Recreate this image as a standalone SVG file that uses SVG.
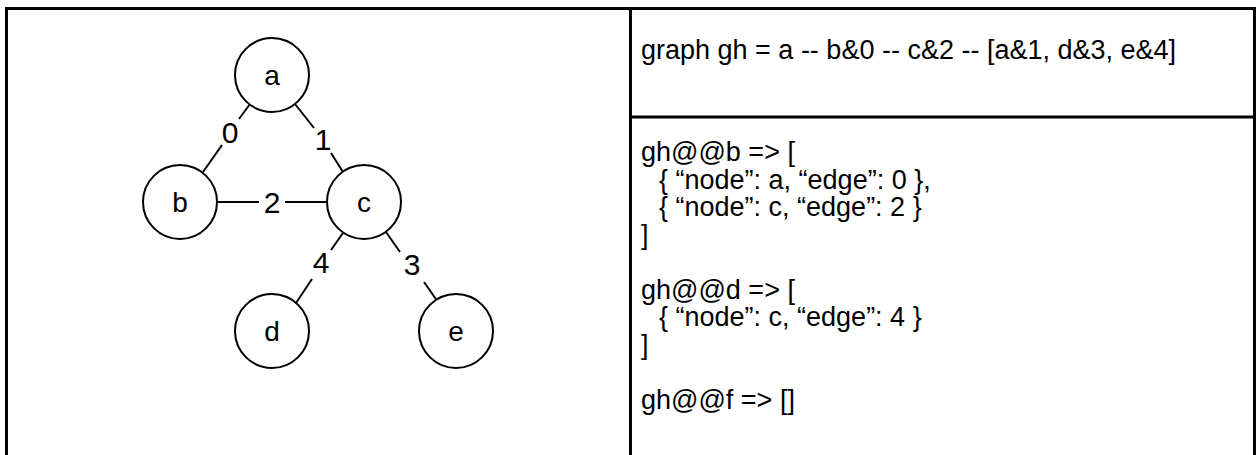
<svg xmlns="http://www.w3.org/2000/svg" width="1257" height="455" viewBox="0 0 1257 455">
  <style>
    .frame { fill: none; stroke: #000; stroke-width: 3; }
    .node circle { fill: #fff; stroke: #000; stroke-width: 2; }
    .node text { font-family: "Liberation Sans", Arial, sans-serif; font-size: 28px; text-anchor: middle; dominant-baseline: central; fill: #000; }
    .edge line { stroke: #000; stroke-width: 2; }
    .edge text { font-family: "Liberation Sans", Arial, sans-serif; font-size: 30px; text-anchor: middle; dominant-baseline: central; fill: #000; }
    .code { font-family: "Liberation Sans", Arial, sans-serif; font-size: 27px; fill: #000; }
  </style>
  <rect width="1257" height="455" fill="#fff"/>

  <!-- table frame -->
  <g id="frame">
    <path class="frame" d="M6.5 460 V8.5 H1254.5 V460"/>
    <line class="frame" x1="630.5" y1="8.5" x2="630.5" y2="460"/>
    <line class="frame" x1="630.5" y1="117" x2="1254.5" y2="117"/>
  </g>

  <!-- connectors with their weight labels -->
  <g id="edges">
    <g class="edge" id="edge-a-b">
      <line x1="250" y1="104" x2="239" y2="119"/>
      <line x1="222" y1="145" x2="203" y2="172"/>
      <text x="230" y="132">0</text>
    </g>
    <g class="edge" id="edge-a-c">
      <line x1="295" y1="104" x2="314" y2="128"/>
      <line x1="331" y1="153" x2="343" y2="172"/>
      <text x="323" y="139">1</text>
    </g>
    <g class="edge" id="edge-b-c">
      <line x1="217" y1="202" x2="259" y2="202"/>
      <line x1="285" y1="202" x2="327" y2="202"/>
      <text x="272" y="202">2</text>
    </g>
    <g class="edge" id="edge-c-d">
      <line x1="343" y1="233" x2="331" y2="250"/>
      <line x1="312" y1="279" x2="296" y2="303"/>
      <text x="321" y="262">4</text>
    </g>
    <g class="edge" id="edge-c-e">
      <line x1="386" y1="232" x2="400" y2="252"/>
      <line x1="424" y1="282" x2="438" y2="302"/>
      <text x="412" y="264">3</text>
    </g>
  </g>

  <!-- nodes -->
  <g class="node" id="node-a"><circle cx="272" cy="75" r="37"/><text x="272" y="75">a</text></g>
  <g class="node" id="node-b"><circle cx="180" cy="202" r="37"/><text x="180" y="202">b</text></g>
  <g class="node" id="node-c"><circle cx="364" cy="202" r="37"/><text x="364" y="202">c</text></g>
  <g class="node" id="node-d"><circle cx="272" cy="331" r="37"/><text x="272" y="331">d</text></g>
  <g class="node" id="node-e"><circle cx="456" cy="331" r="37"/><text x="456" y="331">e</text></g>

  <!-- code panel -->
  <g id="panel-text">
    <text class="code" x="641" y="59">graph gh = a -- b&amp;0 -- c&amp;2 -- [a&amp;1, d&amp;3, e&amp;4]</text>
    <text class="code" x="641" y="161">gh@@b =&gt; [</text>
    <text class="code" x="659" y="188.5">{ “node”: a, “edge”: 0 },</text>
    <text class="code" x="659" y="216">{ “node”: c, “edge”: 2 }</text>
    <text class="code" x="641" y="243.5">]</text>
    <text class="code" x="641" y="298.5">gh@@d =&gt; [</text>
    <text class="code" x="659" y="326">{ “node”: c, “edge”: 4 }</text>
    <text class="code" x="641" y="353.5">]</text>
    <text class="code" x="641" y="408.5">gh@@f =&gt; []</text>
  </g>
</svg>
